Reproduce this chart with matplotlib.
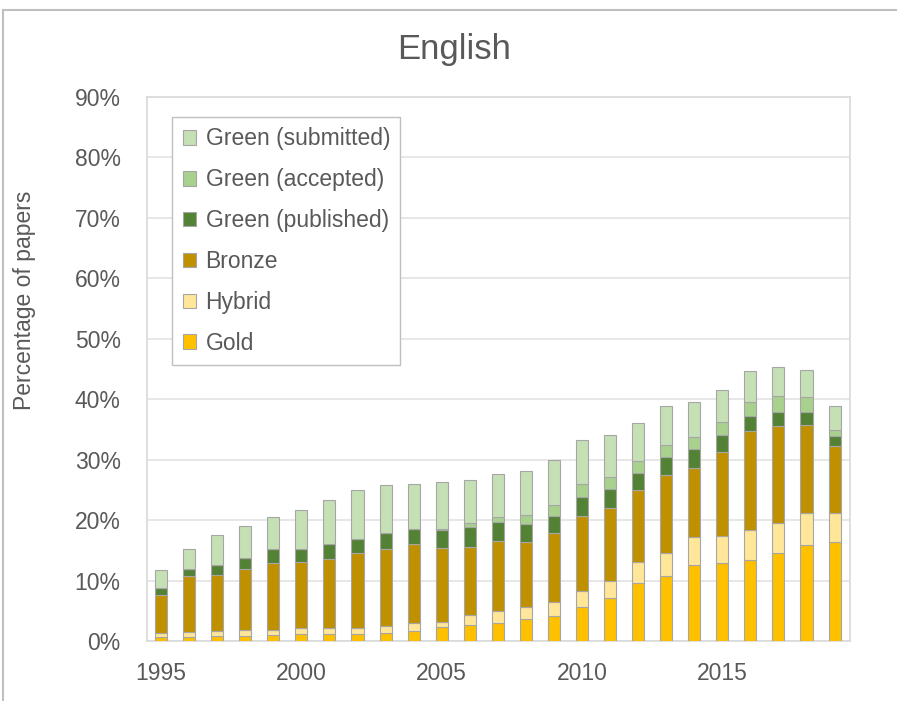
import numpy as np
import matplotlib
matplotlib.use("Agg")
from matplotlib import pyplot as plt
from matplotlib.lines import Line2D

plt.rcParams['font.family'] = ['Liberation Sans', 'DejaVu Sans']

years = list(range(1995, 2020))
gold = [0.7, 0.7, 0.8, 0.9, 1.0, 1.2, 1.2, 1.2, 1.4, 1.6, 2.3, 2.6, 3.0, 3.6, 4.1,
        5.7, 7.1, 9.6, 10.8, 12.5, 12.9, 13.4, 14.6, 15.9, 16.4]
hybrid = [0.7, 0.8, 0.9, 0.9, 0.9, 1.0, 1.0, 1.0, 1.1, 1.4, 0.9, 1.7, 2.0, 2.0, 2.4,
          2.6, 2.9, 3.4, 3.8, 4.7, 4.4, 4.9, 4.9, 5.3, 4.7]
bronze = [6.2, 9.2, 9.3, 10.1, 11.0, 10.8, 11.4, 12.3, 12.7, 13.0, 12.2, 11.2, 11.6, 10.7, 11.3,
          12.3, 12.0, 11.9, 12.8, 11.5, 13.9, 16.5, 16.0, 14.5, 11.1]
green_pub = [1.2, 1.2, 1.6, 1.9, 2.4, 2.2, 2.4, 2.4, 2.6, 2.6, 3.0, 3.3, 3.1, 3.1, 2.9,
             3.2, 3.2, 2.9, 3.0, 3.0, 2.8, 2.4, 2.4, 2.2, 1.7]
green_acc = [0.0, 0.0, 0.0, 0.0, 0.0, 0.0, 0.0, 0.0, 0.0, 0.0, 0.2, 0.8, 0.8, 1.5, 1.8,
             2.2, 1.9, 2.0, 2.1, 2.1, 2.3, 2.4, 2.6, 2.5, 1.0]
green_sub = [2.9, 3.3, 5.0, 5.2, 5.2, 6.5, 7.3, 8.0, 8.0, 7.3, 7.7, 7.1, 7.1, 7.3, 7.5,
             7.2, 7.0, 6.3, 6.3, 5.7, 5.2, 5.1, 4.9, 4.4, 3.9]

series = [
    ("Gold", gold, "#FFC000"),
    ("Hybrid", hybrid, "#FFE699"),
    ("Bronze", bronze, "#BF9000"),
    ("Green (published)", green_pub, "#548235"),
    ("Green (accepted)", green_acc, "#A9D18E"),
    ("Green (submitted)", green_sub, "#C5E0B4"),
]

text_color = "#595959"
fig = plt.figure(figsize=(8.97, 7.01), dpi=100)
ax = fig.add_axes([147 / 897, 1 - 641 / 701, 703 / 897, 544 / 701])

bottom = np.zeros(len(years))
handles = []
for label, vals, color in series:
    vals = np.array(vals)
    b = ax.bar(years, vals, width=0.43, bottom=bottom, color=color,
               edgecolor="#A6A6A6", linewidth=0.8, label=label, zorder=3)
    handles.append(b)
    bottom += vals

ax.set_xlim(1994.5, 2019.55)
ax.set_ylim(0, 90)
ax.set_yticks(range(0, 91, 10))
ax.set_yticklabels(["{}%".format(v) for v in range(0, 91, 10)])
ax.set_xticks([1995, 2000, 2005, 2010, 2015])
ax.tick_params(length=0, labelsize=16.5, colors=text_color)
ax.tick_params(axis="y", pad=19)
ax.tick_params(axis="x", pad=15)
ax.grid(axis="y", color="#E3E3E3", linewidth=1.2, zorder=0)
for s in ax.spines.values():
    s.set_color("#D9D9D9")
    s.set_linewidth(1.2)

fig.text(25 / 897, 1 - 300 / 701, "Percentage of papers", rotation=90,
         ha="center", va="center", fontsize=16.5, color=text_color)
fig.text(454 / 897, 1 - 50 / 701, "English", ha="center", va="center",
         fontsize=25, color=text_color)

leg = ax.legend(handles[::-1], [h.get_label() for h in handles[::-1]],
                loc="upper left", bbox_to_anchor=(0.036, 0.963), borderaxespad=0,
                fontsize=16.5, labelspacing=0.78, handlelength=0.6, handleheight=0.6,
                handletextpad=0.4, borderpad=0.45, fancybox=False, framealpha=1,
                edgecolor="#BFBFBF", labelcolor=text_color)
leg.get_frame().set_linewidth(1.0)

# outer chart border (top and left edges)
fig.add_artist(Line2D([3 / 897, 3 / 897], [0, 1 - 10 / 701], transform=fig.transFigure,
                      color="#BFBFBF", linewidth=1.5))
fig.add_artist(Line2D([3 / 897, 1], [1 - 10 / 701, 1 - 10 / 701], transform=fig.transFigure,
                      color="#BFBFBF", linewidth=1.5))

fig.savefig("out.png", dpi=100)
